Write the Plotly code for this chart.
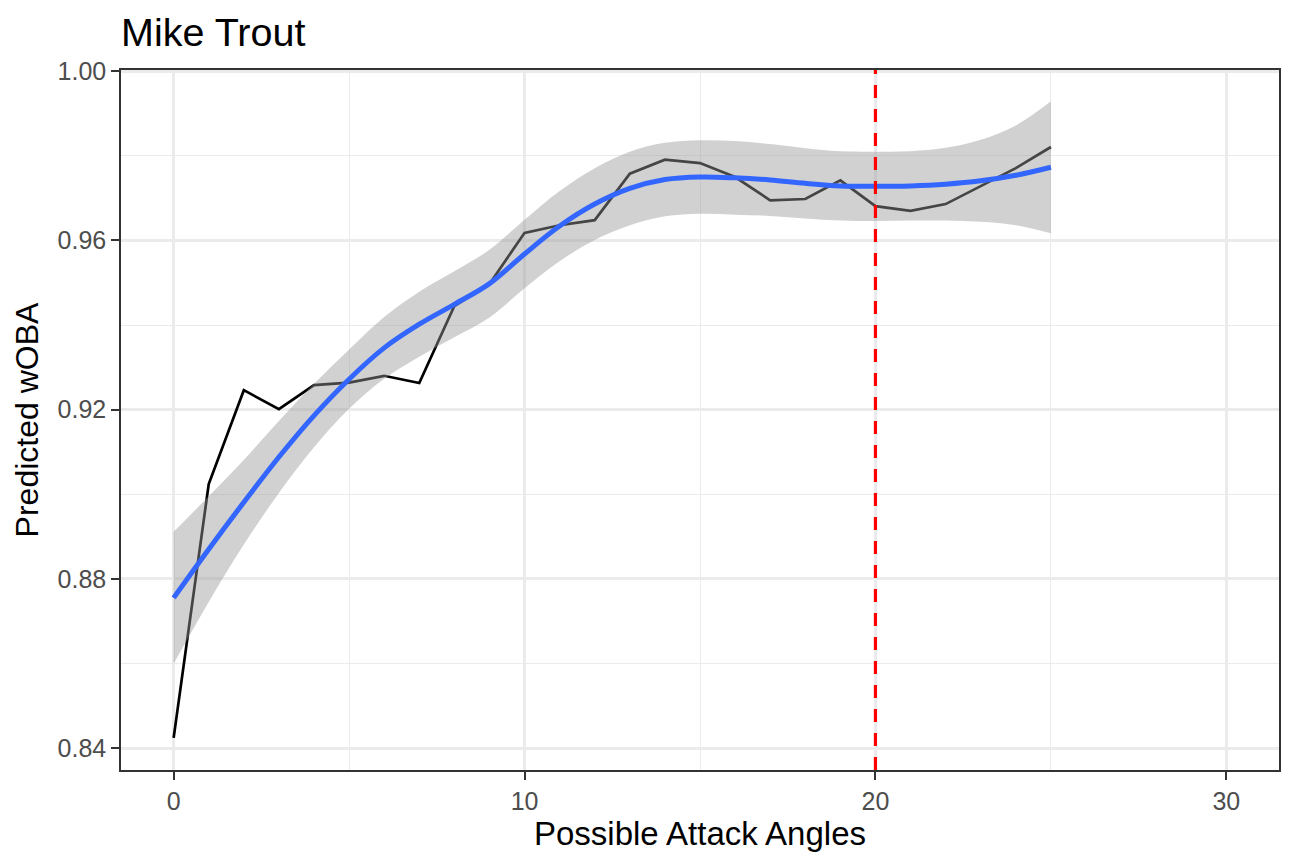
import plotly.graph_objects as go

# Possible attack angles (x)
angles = list(range(0, 26))

# Predicted wOBA at each angle (black line)
woba = [0.8424, 0.9024, 0.9246, 0.9201, 0.9258, 0.9264, 0.9280, 0.9263, 0.9445, 0.9497,
        0.9618, 0.9636, 0.9648, 0.9758, 0.9791, 0.9783, 0.9750, 0.9695, 0.9698, 0.9742,
        0.9681, 0.9670, 0.9686, 0.9728, 0.9771, 0.9821]

# Loess smooth fit (blue) and its confidence band
smooth_fit = [0.8755, 0.8870, 0.8981, 0.9088, 0.9186, 0.9272, 0.9346, 0.9402, 0.9449, 0.9498,
              0.9568, 0.9634, 0.9686, 0.9723, 0.9744, 0.9750, 0.9748, 0.9743, 0.9735, 0.9729,
              0.9728, 0.9729, 0.9733, 0.9741, 0.9754, 0.9773]
smooth_lower = [0.8599, 0.8745, 0.8881, 0.9003, 0.9111, 0.9202, 0.9273, 0.9325, 0.9371, 0.9418,
                0.9487, 0.9551, 0.9601, 0.9636, 0.9657, 0.9663, 0.9661, 0.9658, 0.9652, 0.9647,
                0.9646, 0.9647, 0.9647, 0.9644, 0.9636, 0.9617]
smooth_upper = [0.8911, 0.8995, 0.9081, 0.9173, 0.9261, 0.9342, 0.9419, 0.9479, 0.9527, 0.9578,
                0.9649, 0.9717, 0.9771, 0.9810, 0.9831, 0.9837, 0.9835, 0.9828, 0.9818, 0.9811,
                0.9810, 0.9811, 0.9819, 0.9838, 0.9872, 0.9929]

ref_angle = 20
x_ticks = [0, 10, 20, 30]
y_ticks = [0.84, 0.88, 0.92, 0.96, 1.00]
y_tick_text = ["0.84", "0.88", "0.92", "0.96", "1.00"]

FONT = "Liberation Sans, Arial, sans-serif"

fig = go.Figure()

fig.add_trace(go.Scatter(x=angles, y=woba, mode="lines",
                         line=dict(color="black", width=2.7), showlegend=False, hoverinfo="skip"))

fig.add_trace(go.Scatter(x=angles, y=smooth_lower, mode="lines",
                         line=dict(width=0, shape="spline", color="rgba(0,0,0,0)"),
                         showlegend=False, hoverinfo="skip"))
fig.add_trace(go.Scatter(x=angles, y=smooth_upper, mode="lines",
                         line=dict(width=0, shape="spline", color="rgba(0,0,0,0)"),
                         fill="tonexty", fillcolor="rgba(153,153,153,0.45)",
                         showlegend=False, hoverinfo="skip"))

fig.add_trace(go.Scatter(x=angles, y=smooth_fit, mode="lines",
                         line=dict(color="#3366FF", width=5, shape="spline"),
                         showlegend=False, hoverinfo="skip"))

fig.add_shape(type="line", xref="x", yref="paper", x0=ref_angle, x1=ref_angle, y0=0, y1=1,
              line=dict(color="#FF0000", width=3.2, dash="13px,11px"), layer="above")

fig.update_layout(
    width=1296, height=864,
    margin=dict(l=121, r=17, t=70, b=94),
    paper_bgcolor="white", plot_bgcolor="white",
    font=dict(family=FONT, color="black"),
    title=dict(text="Mike Trout", x=121/1296, xanchor="left", xref="container",
               y=1 - 32/864, yanchor="middle", yref="container",
               font=dict(size=39.5, color="black", family=FONT)),
    showlegend=False,
)

fig.update_xaxes(
    range=[-1.5, 31.5], tickmode="array", tickvals=x_ticks,
    ticks="outside", ticklen=8, tickwidth=2, tickcolor="#333333",
    tickfont=dict(size=25, color="#4D4D4D", family=FONT),
    showgrid=True, gridcolor="#EBEBEB", gridwidth=2.5,
    minor=dict(tickvals=[5, 15, 25], showgrid=True, gridcolor="#EBEBEB", gridwidth=1.3, ticks=""),
    showline=True, linecolor="#333333", linewidth=1.5, mirror=True, zeroline=False,
    title=dict(text="Possible Attack Angles", font=dict(size=33, color="black", family=FONT), standoff=8),
)
fig.update_yaxes(
    range=[0.8348, 1.0003], tickmode="array", tickvals=y_ticks, ticktext=y_tick_text,
    ticks="outside", ticklen=8, tickwidth=2, tickcolor="#333333",
    tickfont=dict(size=25, color="#4D4D4D", family=FONT),
    showgrid=True, gridcolor="#EBEBEB", gridwidth=2.5,
    minor=dict(tickvals=[0.86, 0.90, 0.94, 0.98], showgrid=True, gridcolor="#EBEBEB", gridwidth=1.3, ticks=""),
    showline=True, linecolor="#333333", linewidth=1.5, mirror=True, zeroline=False,
    title=dict(text="Predicted wOBA", font=dict(size=32, color="black", family=FONT), standoff=9),
)

fig.write_html("out.html")
